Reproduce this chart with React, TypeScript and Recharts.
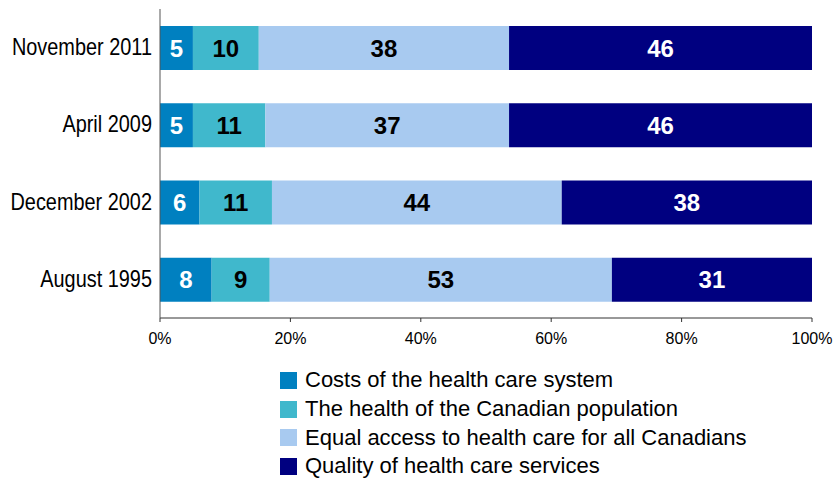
import React from "react";
import { Bar, BarChart, LabelList, Legend, XAxis, YAxis } from "recharts";

const periods = ["November 2011", "April 2009", "December 2002", "August 1995"];
const costs = [5, 5, 6, 8];
const health = [10, 11, 11, 9];
const access = [38, 37, 44, 53];
const quality = [46, 46, 38, 31];
const xTicks = [0, 0.2, 0.4, 0.6, 0.8, 1];

const series = [
  { key: "costs", name: "Costs of the health care system", color: "#0080C0", label: "#ffffff" },
  { key: "health", name: "The health of the Canadian population", color: "#40B8CC", label: "#000000" },
  { key: "access", name: "Equal access to health care for all Canadians", color: "#A8CAF0", label: "#000000" },
  { key: "quality", name: "Quality of health care services", color: "#000080", label: "#ffffff" },
];

const data = periods.map((period, i) => ({
  period,
  costs: costs[i],
  health: health[i],
  access: access[i],
  quality: quality[i],
}));

const FONT = "'Liberation Sans', Arial, sans-serif";

// category labels in the original are a condensed face, so squeeze them
const CategoryTick = (props: any) => {
  const { x, y, payload } = props;
  return (
    <g transform={`translate(${x},${y}) scale(0.865,1)`}>
      <text x={0} y={0} textAnchor="end" dominantBaseline="central" fontSize={23} fontFamily={FONT} fill="#000">
        {payload.value}
      </text>
    </g>
  );
};

const LegendContent = () => (
  <div style={{ fontFamily: FONT, fontSize: 22, color: "#000" }}>
    {series.map((s) => (
      <div key={s.key} style={{ display: "flex", alignItems: "center", height: 28.7, whiteSpace: "nowrap" }}>
        <span style={{ display: "inline-block", width: 17, height: 17, background: s.color, marginRight: 8 }} />
        <span>{s.name}</span>
      </div>
    ))}
  </div>
);

export default function App() {
  return (
    <div style={{ position: "absolute", left: 0, top: 0, background: "#fff" }}>
      <BarChart
        width={835}
        height={483}
        data={data}
        layout="vertical"
        stackOffset="expand"
        barSize={44}
        margin={{ top: 9, right: 23, left: 0, bottom: 135 }}
      >
        <XAxis
          type="number"
          domain={[0, 1]}
          ticks={xTicks}
          height={30}
          tickFormatter={(v: number) => `${Math.round(v * 100)}%`}
          tick={{ fontSize: 16, fontFamily: FONT, fill: "#000" }}
          stroke="#333"
          tickSize={4}
          tickMargin={11}
        />
        <YAxis
          type="category"
          dataKey="period"
          width={160}
          tick={<CategoryTick />}
          tickLine={false}
          tickSize={0}
          tickMargin={8}
          stroke="#555"
        />
        <Legend
          layout="vertical"
          align="center"
          verticalAlign="middle"
          content={<LegendContent />}
          wrapperStyle={{ top: 366, left: 280, width: "auto", height: "auto" }}
        />
        {series.map((s) => (
          <Bar key={s.key} dataKey={s.key} name={s.name} stackId="a" fill={s.color} isAnimationActive={false}>
            <LabelList
              dataKey={s.key}
              position="center"
              fill={s.label}
              fontSize={24}
              fontWeight="bold"
              fontFamily={FONT}
            />
          </Bar>
        ))}
      </BarChart>
    </div>
  );
}
